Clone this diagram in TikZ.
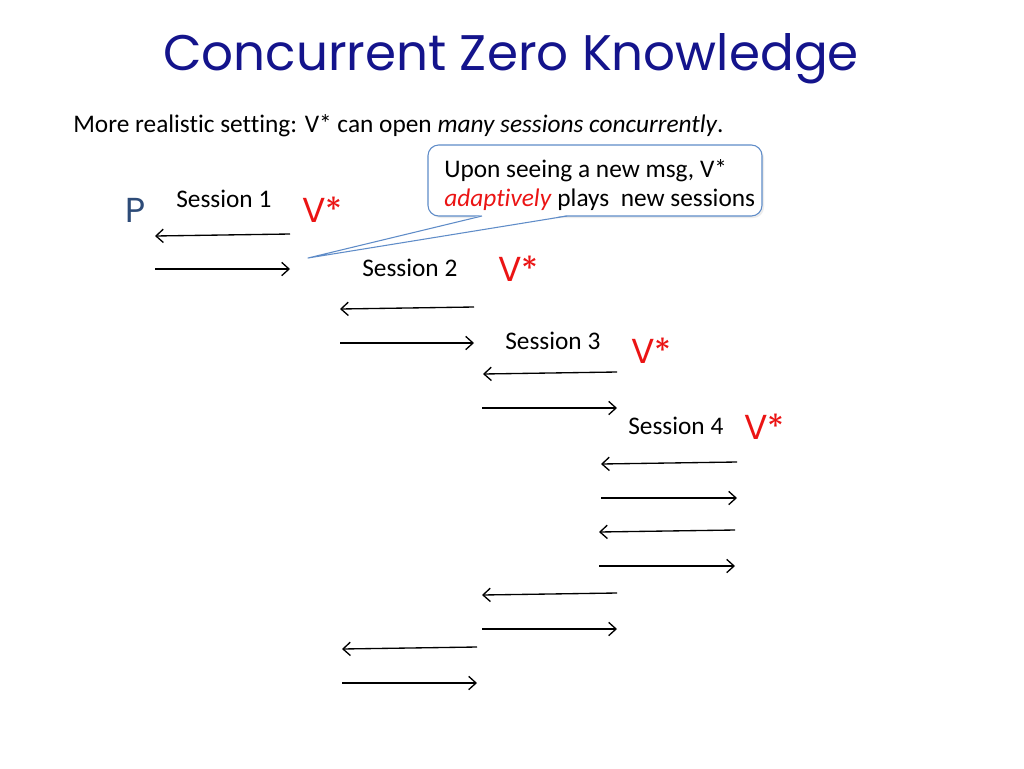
\documentclass[tikz,border=0pt]{standalone}
\usepackage{fontspec}
\setmainfont[Ligatures=NoCommon]{Carlito}
\newfontfamily\gothic{Poppins}
\usetikzlibrary{arrows.meta,shadows}
\definecolor{titleblue}{RGB}{20,20,140}
\definecolor{pblue}{RGB}{45,75,120}
\definecolor{vred}{RGB}{235,20,20}
\definecolor{callborder}{RGB}{95,140,200}
\begin{document}
\begin{tikzpicture}[x=0.75pt,y=-0.75pt,
  msg/.style={draw=black,line width=1pt,-{Straight Barb[length=5.5pt,width=10pt,line width=1pt]}},
  lbl/.style={anchor=base west,inner sep=0pt,font=\fontsize{19}{22}\selectfont},
  vstar/.style={anchor=base west,inner sep=0pt,text=vred,font=\gothic\fontsize{26}{30}\selectfont},
  callbox/.style={draw=callborder,line width=0.8pt,fill=white,rounded corners=8pt,
    drop shadow={opacity=0.15,shadow xshift=1.5pt,shadow yshift=-1.5pt}},
]
\useasboundingbox[fill=white] (0,0) rectangle (1024,768);
% title and subtitle
\node[anchor=base,inner sep=0pt,text=titleblue,font=\gothic\fontsize{37.5}{45}\selectfont] (title) at (511,70) {Concurrent Zero Knowledge};
\node[lbl] (sub) at (73,132) {More realistic setting: V* can open \textit{many sessions concurrently}.};
% parties
\node[anchor=base west,inner sep=0pt,text=pblue,font=\gothic\fontsize{26}{30}\selectfont] (P) at (125,222) {P};
\node[lbl] (s1) at (176,207) {Session 1};
\node[vstar] (v1) at (302,222) {V*};
\node[lbl] (s2) at (362,276) {Session 2};
\node[vstar] (v2) at (498,281) {V*};
\node[lbl] (s3) at (505,349) {Session 3};
\node[vstar] (v3) at (631,363) {V*};
\node[lbl] (s4) at (628,434) {Session 4};
\node[vstar] (v4) at (744,439) {V*};
% message end points
\coordinate (a1) at (290,234); \coordinate (b1) at (155,236);
\coordinate (a2) at (155,269); \coordinate (b2) at (290,269);
\coordinate (a3) at (474,307); \coordinate (b3) at (340,309);
\coordinate (a4) at (340,343); \coordinate (b4) at (474,343);
\coordinate (a5) at (617,372); \coordinate (b5) at (483,374);
\coordinate (a6) at (482,408); \coordinate (b6) at (617,408);
\coordinate (a7) at (737,462); \coordinate (b7) at (601,464);
\coordinate (a8) at (601,498); \coordinate (b8) at (737,498);
\coordinate (a9) at (735,530); \coordinate (b9) at (599,532);
\coordinate (a10) at (599,566); \coordinate (b10) at (735,566);
\coordinate (a11) at (617,593); \coordinate (b11) at (482,595);
\coordinate (a12) at (482,629); \coordinate (b12) at (617,629);
\coordinate (a13) at (477,647); \coordinate (b13) at (342,649);
\coordinate (a14) at (342,683); \coordinate (b14) at (477,683);
\foreach \i in {1,...,14} {\draw[msg] (a\i) -- (b\i);}
% callout
\draw[callbox] (428,145) rectangle (762,216);
\coordinate (tip) at (308,258);
\coordinate (t1) at (482,216);
\coordinate (t2) at (567,216);
\fill[white] ([yshift=0.6pt]t1) -- (tip) -- ([yshift=0.6pt]t2) -- cycle;
\draw[callborder,line width=0.8pt,line join=round] (t1) -- (tip) -- (t2);
\node[lbl] (c1) at (444,177) {Upon seeing a new msg, V*};
\node[lbl] (c2) at (444,206) {\textcolor{vred}{\textit{adaptively}} plays\ \ new sessions};
\end{tikzpicture}
\end{document}
